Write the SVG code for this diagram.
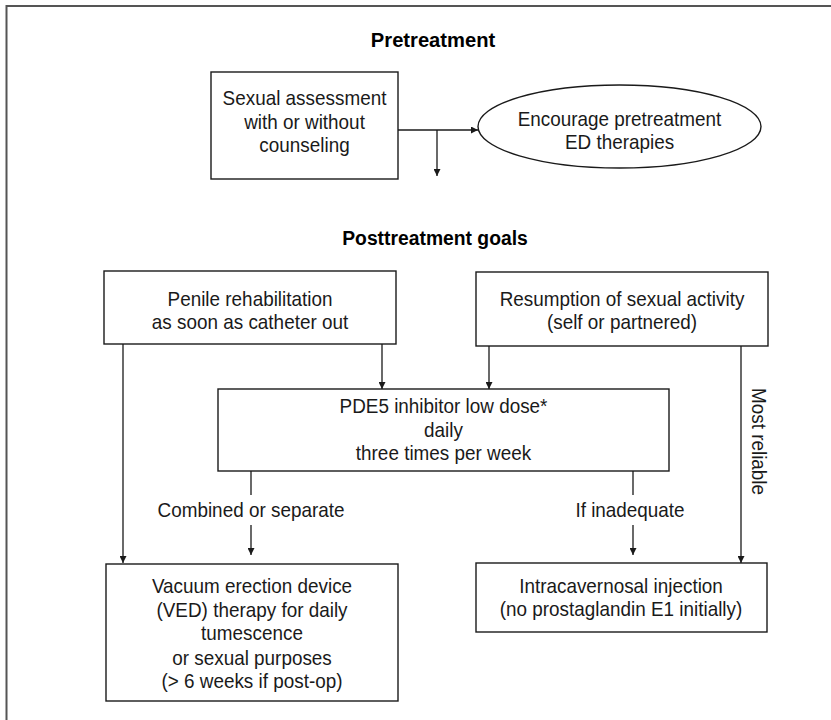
<svg xmlns="http://www.w3.org/2000/svg" width="831" height="720" viewBox="0 0 831 720">
<defs>
<style>
.box{fill:#fff;stroke:#1a1a1a;stroke-width:1.4}
.ln{fill:none;stroke:#1a1a1a;stroke-width:1.3}
.arr{fill:none;stroke:#1a1a1a;stroke-width:1.3;marker-end:url(#ah)}
text{font-family:"Liberation Sans",Arial,sans-serif;font-size:21px;fill:#1a1a1a;text-anchor:middle}
.title{font-weight:bold;font-size:21px;fill:#000}
</style>
<marker id="ah" viewBox="0 0 10 10" refX="10" refY="5" markerWidth="10" markerHeight="7" markerUnits="userSpaceOnUse" orient="auto">
<path d="M0,0 L10,5 L0,10 z" fill="#1a1a1a"/>
</marker>
</defs>
<rect width="831" height="720" fill="#fff"/>
<rect x="6.5" y="6" width="840" height="730" fill="none" stroke="#555" stroke-width="2"/>

<text class="title" transform="translate(433,47) scale(0.96,1)">Pretreatment</text>
<text class="title" transform="translate(435,245) scale(0.92,1)">Posttreatment goals</text>

<g id="connectors">
<path class="arr" d="M398,130 H478"/>
<path class="arr" d="M437,130 V176"/>
<path class="arr" d="M382,344 V389"/>
<path class="arr" d="M489,346 V389"/>
<path class="arr" d="M123,344 V563"/>
<path class="ln" d="M251,471 V495"/>
<path class="arr" d="M251,525 V555"/>
<path class="ln" d="M633,471 V495"/>
<path class="arr" d="M633,525 V555"/>
<path class="arr" d="M741,346 V563"/>
<text transform="translate(251,517) scale(0.9,1)">Combined or separate</text>
<text transform="translate(630,517) scale(0.9,1)">If inadequate</text>
<text transform="translate(752,441.5) rotate(90) scale(0.9,1)">Most reliable</text>
</g>

<g id="assessment">
<rect class="box" x="211" y="72" width="187" height="107"/>
<text transform="translate(304.5,105) scale(0.9,1)">Sexual assessment</text>
<text transform="translate(304.5,128.5) scale(0.9,1)">with or without</text>
<text transform="translate(304.5,152) scale(0.9,1)">counseling</text>
</g>

<g id="encourage">
<ellipse class="box" cx="619.5" cy="126.5" rx="141.5" ry="41.5"/>
<text transform="translate(619.5,126) scale(0.9,1)">Encourage pretreatment</text>
<text transform="translate(619.5,149) scale(0.9,1)">ED therapies</text>
</g>

<g id="penile">
<rect class="box" x="104" y="271" width="292" height="73"/>
<text transform="translate(250,306) scale(0.9,1)">Penile rehabilitation</text>
<text transform="translate(250,329) scale(0.9,1)">as soon as catheter out</text>
</g>

<g id="resumption">
<rect class="box" x="476" y="272" width="292" height="74"/>
<text transform="translate(622,306) scale(0.9,1)">Resumption of sexual activity</text>
<text transform="translate(622,329) scale(0.9,1)">(self or partnered)</text>
</g>

<g id="pde5">
<rect class="box" x="218" y="389" width="451" height="82"/>
<text transform="translate(443.5,413) scale(0.9,1)">PDE5 inhibitor low dose*</text>
<text transform="translate(443.5,437) scale(0.9,1)">daily</text>
<text transform="translate(443.5,460) scale(0.9,1)">three times per week</text>
</g>

<g id="ved">
<rect class="box" x="106" y="564" width="292" height="137"/>
<text transform="translate(252,593) scale(0.9,1)">Vacuum erection device</text>
<text transform="translate(252,617) scale(0.9,1)">(VED) therapy for daily</text>
<text transform="translate(252,640) scale(0.9,1)">tumescence</text>
<text transform="translate(252,665) scale(0.9,1)">or sexual purposes</text>
<text transform="translate(252,688) scale(0.9,1)">(&gt; 6 weeks if post-op)</text>
</g>

<g id="injection">
<rect class="box" x="476" y="563" width="291" height="69"/>
<text transform="translate(621,593) scale(0.9,1)">Intracavernosal injection</text>
<text transform="translate(621,616) scale(0.9,1)">(no prostaglandin E1 initially)</text>
</g>
</svg>
